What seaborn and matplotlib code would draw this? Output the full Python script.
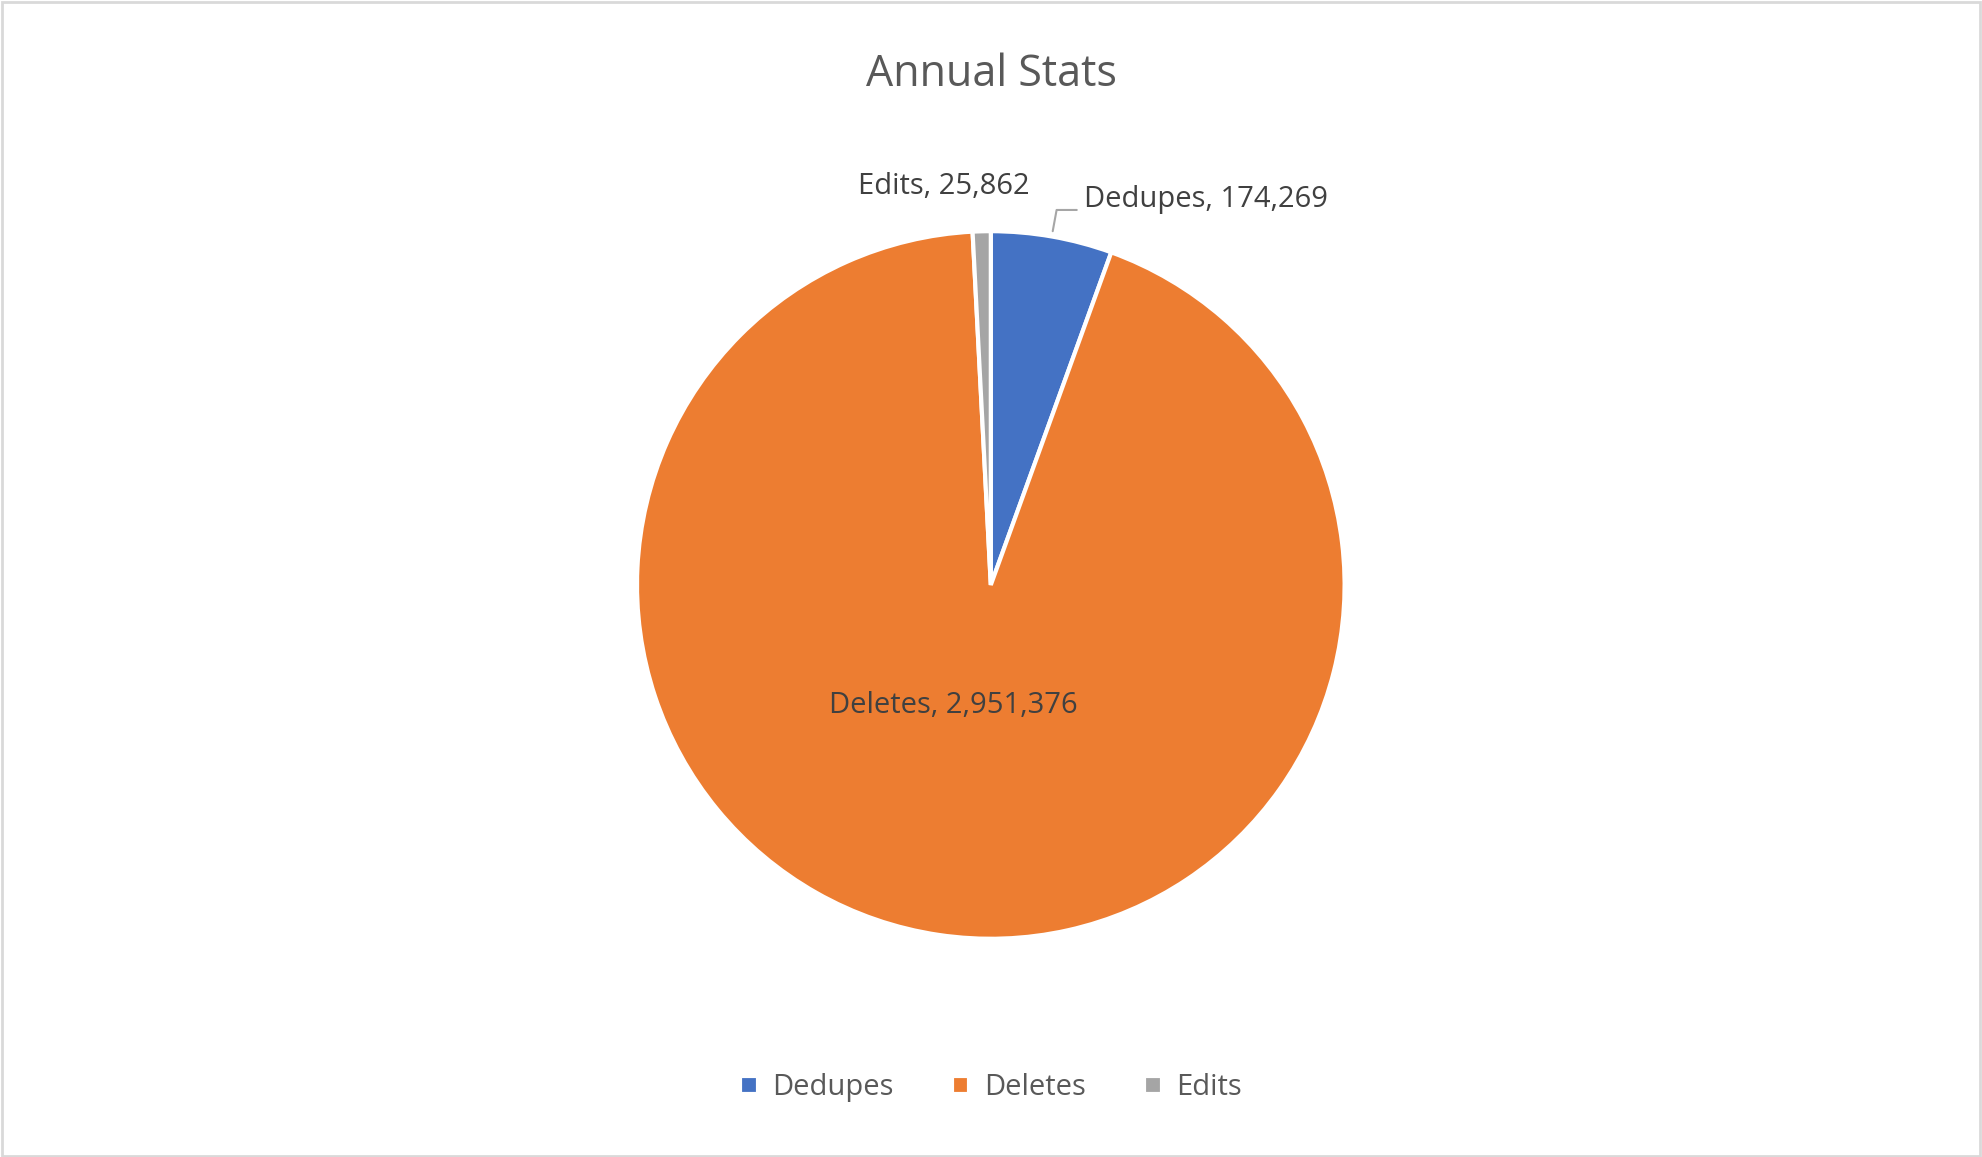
import matplotlib
matplotlib.use("Agg")
import matplotlib.pyplot as plt
import seaborn as sns
from matplotlib.patches import Rectangle

categories = ["Dedupes", "Deletes", "Edits"]
values = [174269, 2951376, 25862]
colors = ["#4472C4", "#ED7D31", "#A5A5A5"]

sns.set_theme(style="white", font="Open Sans")
fig = plt.figure(figsize=(19.82, 11.57), dpi=100)
fig.patches.append(Rectangle((0.001, 0.001), 0.998, 0.997, transform=fig.transFigure,
                             fill=False, edgecolor="#d9d9d9", linewidth=2))
ax = fig.add_axes([0.3214, 0.1884, 0.357, 0.612])
wedges, _ = ax.pie(values, colors=colors, startangle=90, counterclock=False, radius=1,
                   wedgeprops=dict(edgecolor="white", linewidth=3))
ax.set_xlim(-1, 1); ax.set_ylim(-1, 1); ax.set_aspect("equal")
ax.axis("off")

lc = "#404040"
fs = 21
ax.text(-0.107, -0.34, f"{categories[1]}, {values[1]:,}", ha="center", va="center", fontsize=fs, color=lc)
ax.text(0.264, 1.09, f"{categories[0]}, {values[0]:,}", ha="left", va="center", fontsize=fs, color=lc)
ax.plot([0.175, 0.186, 0.243], [1.0, 1.06, 1.06], color="#a6a6a6", lw=1.5, clip_on=False)
ax.text(0.11, 1.125, f"{categories[2]}, {values[2]:,}", ha="right", va="center", fontsize=fs, color=lc)

fig.suptitle("Annual Stats", y=0.955, fontsize=31, color="#595959")
leg = fig.legend(wedges, categories, loc="center", bbox_to_anchor=(0.5, 0.06), ncol=3,
                 frameon=False, fontsize=21, handlelength=0.6, handleheight=0.6,
                 columnspacing=2.0, handletextpad=0.5)
for t in leg.get_texts():
    t.set_color("#595959")
fig.savefig("out.png", dpi=100)
